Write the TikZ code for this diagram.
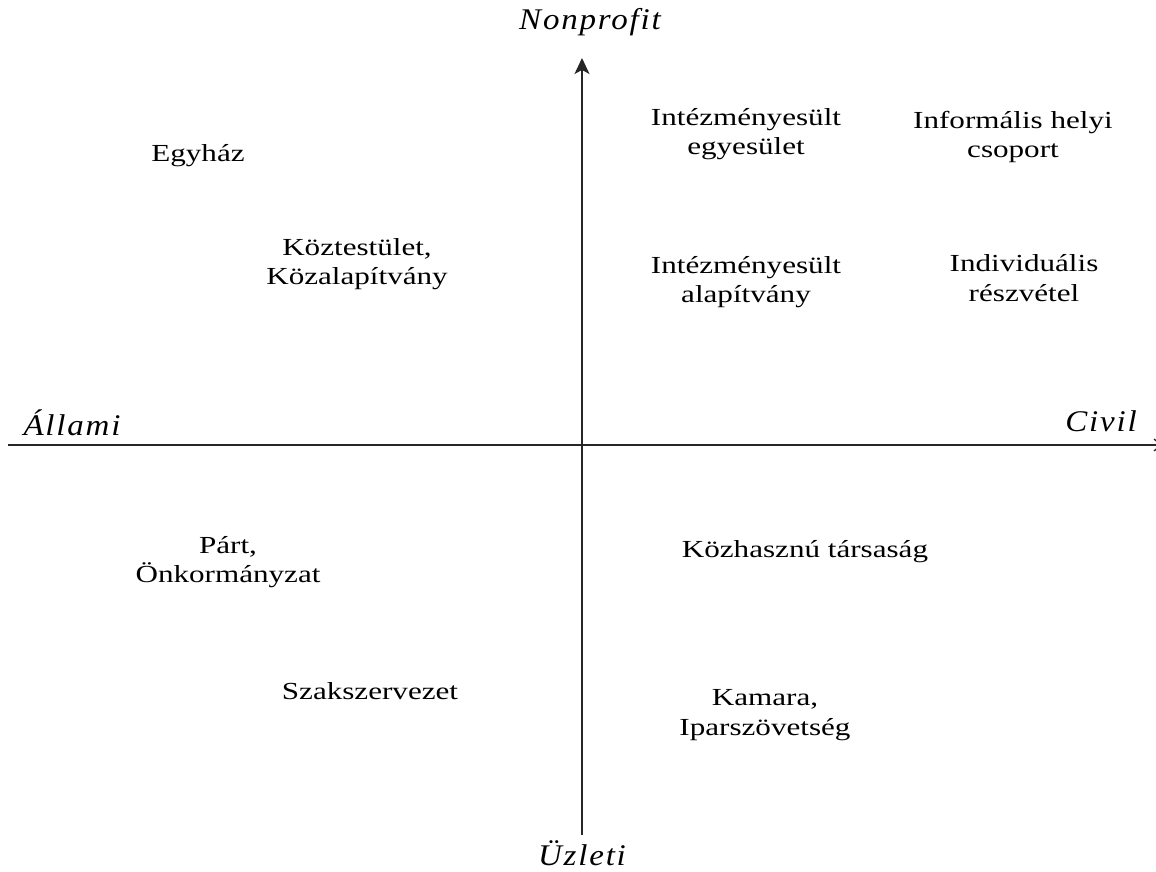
\documentclass[tikz,border=0pt]{standalone}
\usepackage{fontspec}
\setmainfont{Liberation Serif}[FakeStretch=1.27]
\newfontfamily\axisfont{Liberation Serif}[LetterSpace=6,FakeStretch=1.1]
\usetikzlibrary{arrows.meta}
\begin{document}
\begin{tikzpicture}[x=1pt,y=-1pt,
  lbl/.style={inner sep=0pt,align=center,font=\fontsize{24.5}{29.5}\selectfont},
  axlbl/.style={inner sep=0pt,font=\axisfont\itshape\fontsize{30}{32}\selectfont},
  axis/.style={line width=1.3pt,draw=black!85}]
\useasboundingbox (0,0) rectangle (1156,872);
\coordinate (top) at (582,58);
\coordinate (bot) at (582,835);
\coordinate (left) at (8,445);
\coordinate (right) at (1162,445);
\draw[axis,-{Stealth[length=16pt,width=15pt,inset=4pt]}] (bot) -- (top);
\draw[axis,-{Straight Barb[length=7pt,width=12pt]}] (left) -- (right);
\node[axlbl] (np) at (590,22) {Nonprofit};
\node[axlbl] (uz) at (582,853) {Üzleti};
\node[axlbl] (al) at (72,423) {Állami};
\node[axlbl] (ci) at (1101,421) {Civil};
\node[lbl] (egy) at (198,156) {Egyház};
\node[lbl] (koz) at (357,264) {Köztestület,\\Közalapítvány};
\node[lbl] (ie) at (746,134) {Intézményesült\\egyesület};
\node[lbl] (inf) at (1013,137) {Informális helyi\\csoport};
\node[lbl] (ia) at (746,282) {Intézményesült\\alapítvány};
\node[lbl] (ind) at (1024,278) {Individuális\\részvétel};
\node[lbl] (part) at (228,562) {Párt,\\Önkormányzat};
\node[lbl] (kh) at (805,552) {Közhasznú társaság};
\node[lbl] (szak) at (370,691) {Szakszervezet};
\node[lbl] (kam) at (765,715) {Kamara,\\Iparszövetség};
\end{tikzpicture}
\end{document}
